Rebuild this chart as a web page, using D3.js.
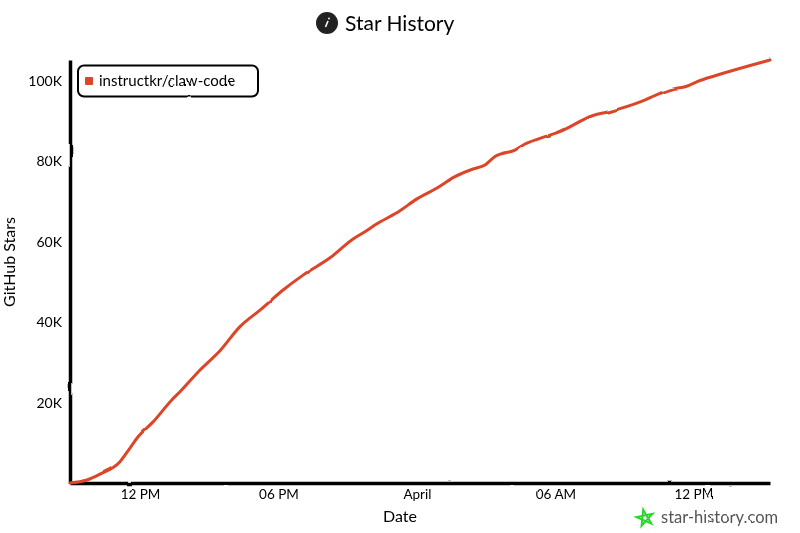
<!DOCTYPE html>
<html>
<head>
<meta charset="utf-8">
<title>Star History</title>
<script src="https://cdn.jsdelivr.net/npm/d3@7"></script>
<style>
  html, body { margin: 0; padding: 0; background: #fff; }
  svg { display: block; }
  text { font-family: "Lato", "Noto Sans", sans-serif; fill: #000; }
</style>
</head>
<body>
<div id="chart"></div>
<script>
//## Data

const seriesName = "instructkr/claw-code";

const times = [
  "03-31 08:58", "03-31 09:42", "03-31 10:16", "03-31 11:08", "03-31 11:34", "03-31 11:55",
  "03-31 12:34", "03-31 13:22", "03-31 13:44", "03-31 14:36", "03-31 15:28", "03-31 16:20",
  "03-31 17:12", "03-31 18:12", "03-31 19:04", "03-31 20:14", "03-31 21:14", "03-31 21:45",
  "03-31 22:15", "03-31 23:16", "03-31 23:59", "04-01 00:51", "04-01 01:39", "04-01 02:26",
  "04-01 02:57", "04-01 03:23", "04-01 04:15", "04-01 04:41", "04-01 05:20", "04-01 06:12",
  "04-01 07:38", "04-01 08:22", "04-01 09:44", "04-01 10:32", "04-01 11:15", "04-01 11:32",
  "04-01 12:16", "04-01 13:16", "04-01 14:17", "04-01 15:18"
];

const stars = [
  0, 750, 2200, 5300, 8700, 11500,
  15200, 20600, 22700, 28100, 32900, 38900,
  43000, 48000, 51700, 56000, 60700, 62500,
  64400, 67700, 70600, 73300, 76200, 78100,
  79100, 81200, 82800, 84300, 85700, 87400,
  91400, 92400, 94900, 96900, 98200, 98400,
  100100, 101900, 103600, 105200
];

const yTicks = [20000, 40000, 60000, 80000, 100000];

const xTicks = ["03-31 12:00", "03-31 18:00", "04-01 00:00", "04-01 06:00", "04-01 12:00"];
const xTickLabels = ["12 PM", "06 PM", "April", "06 AM", "12 PM"];

const lineColor = "#dd4528";

//## Chart

const width = 800;
const height = 533;
const margin = { top: 60, right: 30, bottom: 50, left: 70 };

const parseTime = d3.timeParse("%m-%d %H:%M");
const data = times.map((t, i) => ({ date: parseTime(t), value: stars[i] }));

const x = d3
  .scaleTime()
  .domain(d3.extent(data, (d) => d.date))
  .range([margin.left, width - margin.right]);

const y = d3
  .scaleLinear()
  .domain([0, 105200])
  .range([height - margin.bottom, margin.top]);

const svg = d3
  .select("#chart")
  .append("svg")
  .attr("width", width)
  .attr("height", height);

// Slow wobble over the whole drawing for the hand drawn look
const sketch = svg
  .append("defs")
  .append("filter")
  .attr("id", "sketch")
  .attr("filterUnits", "userSpaceOnUse")
  .attr("x", 0)
  .attr("y", 0)
  .attr("width", width)
  .attr("height", height)
  .attr("color-interpolation-filters", "sRGB");

sketch
  .append("feTurbulence")
  .attr("type", "fractalNoise")
  .attr("baseFrequency", 0.05)
  .attr("numOctaves", 1)
  .attr("seed", 4);

// Noise alpha has to be flat or the displacement tears
sketch
  .append("feColorMatrix")
  .attr("type", "matrix")
  .attr("values", "1 0 0 0 0  0 1 0 0 0  0 0 1 0 0  0 0 0 0 1")
  .attr("result", "noise");

sketch
  .append("feDisplacementMap")
  .attr("in", "SourceGraphic")
  .attr("in2", "noise")
  .attr("xChannelSelector", "R")
  .attr("yChannelSelector", "G")
  .attr("scale", 2.2);

const root = svg.append("g").attr("filter", "url(#sketch)");

//## Axes

const xAxis = d3
  .axisBottom(x)
  .tickValues(xTicks.map(parseTime))
  .tickSize(0)
  .tickPadding(6)
  .tickFormat((d, i) => xTickLabels[i]);

const yAxis = d3
  .axisLeft(y)
  .tickValues(yTicks)
  .tickSize(0)
  .tickPadding(8)
  .tickFormat((d) => d / 1000 + "K");

const gx = root
  .append("g")
  .attr("transform", `translate(0,${y(0)})`)
  .call(xAxis);

const gy = root
  .append("g")
  .attr("transform", `translate(${margin.left},0)`)
  .call(yAxis);

[gx, gy].forEach((g) => {
  g.select(".domain")
    .attr("stroke", "#000")
    .attr("stroke-width", 3.5);
});

gx.selectAll("text").style("font-size", "13.5px");
gy.selectAll("text").style("font-size", "14px");

//## Line

const line = d3
  .line()
  .x((d) => x(d.date))
  .y((d) => y(d.value))
  .curve(d3.curveMonotoneX);

root
  .append("path")
  .datum(data)
  .attr("fill", "none")
  .attr("stroke", lineColor)
  .attr("stroke-width", 3)
  .attr("stroke-linecap", "round")
  .attr("d", line);

//## Labels

root
  .append("text")
  .attr("x", 400)
  .attr("y", 522)
  .attr("text-anchor", "middle")
  .style("font-size", "16px")
  .text("Date");

root
  .append("text")
  .attr("transform", "translate(15,262) rotate(-90)")
  .attr("text-anchor", "middle")
  .style("font-size", "16px")
  .text("GitHub Stars");

// Title with the round logo
const title = root.append("g");

title.append("circle").attr("cx", 327).attr("cy", 23).attr("r", 11).attr("fill", "#222");

title
  .append("line")
  .attr("x1", 325.5)
  .attr("y1", 27)
  .attr("x2", 328)
  .attr("y2", 21)
  .attr("stroke", "#fff")
  .attr("stroke-width", 1.6);

title.append("circle").attr("cx", 329).attr("cy", 18.5).attr("r", 0.9).attr("fill", "#fff");

title
  .append("text")
  .attr("x", 345)
  .attr("y", 31)
  .style("font-size", "21px")
  .text("Star History");

//## Legend

const legend = root.append("g");

legend
  .append("rect")
  .attr("x", 78)
  .attr("y", 65.5)
  .attr("width", 180)
  .attr("height", 31)
  .attr("rx", 6)
  .attr("fill", "#fff")
  .attr("stroke", "#000")
  .attr("stroke-width", 2);

legend
  .append("rect")
  .attr("x", 85)
  .attr("y", 77)
  .attr("width", 8)
  .attr("height", 8)
  .attr("rx", 1)
  .attr("fill", lineColor);

legend
  .append("text")
  .attr("x", 99)
  .attr("y", 86)
  .style("font-size", "15px")
  .text(seriesName);

//## Watermark

// Pentagram, drawn in one stroke
const starPoints = d3.range(5).map((i) => {
  const a = (i * 4 * Math.PI) / 5;
  return [8.5 * Math.sin(a), -8.5 * Math.cos(a)];
});

root
  .append("path")
  .attr("transform", "translate(645,518) rotate(-12)")
  .attr("d", d3.line()(starPoints) + "Z")
  .attr("fill", "none")
  .attr("stroke", "#2bd52b")
  .attr("stroke-width", 2);

root
  .append("text")
  .attr("x", 661)
  .attr("y", 523)
  .style("font-size", "16.5px")
  .style("fill", "#555")
  .text("star-history.com");
</script>
</body>
</html>
